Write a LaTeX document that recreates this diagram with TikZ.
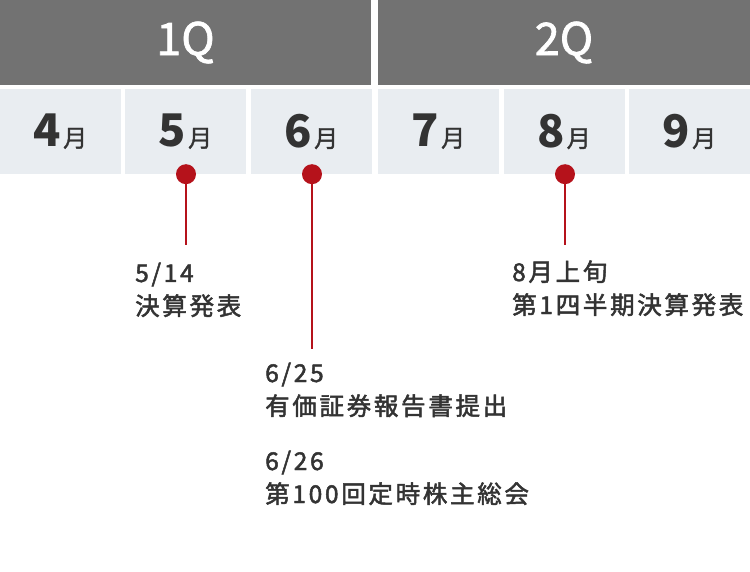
\documentclass[tikz,border=0pt]{standalone}
\usepackage{fontspec}
\setmainfont{Noto Sans CJK JP}
\newfontfamily\notefont[LetterSpace=11, FakeBold=2]{Noto Sans CJK JP}
\newfontfamily\headfont[FakeBold=1.5]{Noto Sans CJK JP}
\usetikzlibrary{positioning}
\definecolor{qgray}{HTML}{727272}
\definecolor{mgray}{HTML}{E9EDF1}
\definecolor{dotred}{HTML}{B5121B}
\definecolor{ink}{HTML}{333333}
\newcommand{\monthlabel}[1]{{\bfseries\fontsize{45}{45}\selectfont #1}\hspace{2pt}{\headfont\fontsize{24}{24}\selectfont 月}}

\begin{document}
\begin{tikzpicture}[x=1pt, y=-1pt,
    quarter/.style={fill=qgray, text=white, minimum width=371pt, minimum height=85pt, inner sep=0pt, font=\headfont\fontsize{45}{45}\selectfont},
    month/.style={fill=mgray, text=ink, minimum width=121pt, minimum height=85pt, inner sep=0pt},
    event/.style={circle, fill=dotred, minimum size=20pt, inner sep=0pt},
    stem/.style={draw=dotred, line width=2pt},
    note/.style={text=ink, align=left, anchor=base west, inner sep=0pt, font=\notefont\fontsize{24.5}{33}\selectfont}]
    \useasboundingbox (0,0) rectangle (750,572);

    \node[quarter] (q1) at (185.5,42.5) {1Q};
    \node[quarter, minimum width=372pt] (q2) at (564,42.5) {2Q};

    \foreach \m/\x in {4/60.5, 5/185.5, 6/311.5, 7/438.5, 8/564, 9/689.5}
        \node[month] (m\m) at (\x,131.5) {\monthlabel{\m}};

    % events
    \coordinate (t5) at (186,245);
    \coordinate (t6) at (312,349);
    \coordinate (t8) at (565,245);
    \draw[stem] (t5 |- m5.south) -- (t5);
    \draw[stem] (t6 |- m6.south) -- (t6);
    \draw[stem] (t8 |- m8.south) -- (t8);
    \node[event] (d5) at (t5 |- m5.south) {};
    \node[event] (d6) at (t6 |- m6.south) {};
    \node[event] (d8) at (t8 |- m8.south) {};

    \node[note] (n514) at (135,315) {5/14\\決算発表};
    \node[note] (n625) at (265,415) {6/25\\有価証券報告書提出};
    \node[note] (n626) at (265,503) {6/26\\第100回定時株主総会};
    \node[note] (n8) at (512,314) {8月上旬\\第1四半期決算発表};
\end{tikzpicture}
\end{document}
